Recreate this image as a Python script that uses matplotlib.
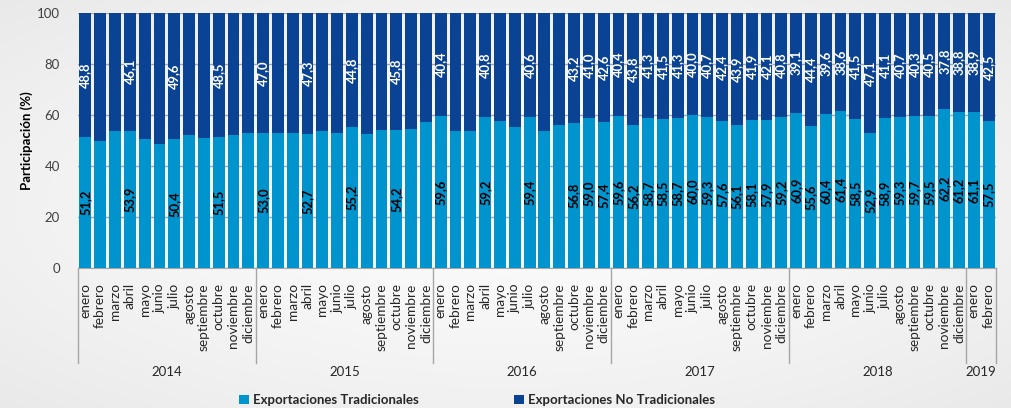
import numpy as np
import matplotlib
matplotlib.use("Agg")
import matplotlib.pyplot as plt
from matplotlib.patches import Patch

# ---------------- data ----------------
months = ["enero", "febrero", "marzo", "abril", "mayo", "junio", "julio",
          "agosto", "septiembre", "octubre", "noviembre", "diciembre"]
years = ["2014", "2015", "2016", "2017", "2018", "2019"]
months_per_year = [12, 12, 12, 12, 12, 2]

tradicionales = [
    51.2, 50.0, 53.6, 53.9, 50.4, 48.8, 50.4, 52.0, 50.8, 51.5, 52.0, 52.8,   # 2014
    53.0, 53.0, 52.8, 52.7, 53.6, 52.8, 55.2, 52.4, 54.3, 54.2, 54.7, 57.1,   # 2015
    59.6, 53.9, 53.9, 59.2, 57.5, 55.1, 59.4, 53.9, 55.9, 56.8, 59.0, 57.4,   # 2016
    59.6, 56.2, 58.7, 58.5, 58.7, 60.0, 59.3, 57.6, 56.1, 58.1, 57.9, 59.2,   # 2017
    60.9, 55.6, 60.4, 61.4, 58.5, 52.9, 58.9, 59.3, 59.7, 59.5, 62.2, 61.2,   # 2018
    61.1, 57.5,                                                               # 2019
]
no_tradicionales = [
    48.8, 50.0, 46.4, 46.1, 49.6, 51.2, 49.6, 48.0, 49.2, 48.5, 48.0, 47.2,
    47.0, 47.0, 47.2, 47.3, 46.4, 47.2, 44.8, 47.6, 45.7, 45.8, 45.3, 42.9,
    40.4, 46.1, 46.1, 40.8, 42.5, 44.9, 40.6, 46.1, 44.1, 43.2, 41.0, 42.6,
    40.4, 43.8, 41.3, 41.5, 41.3, 40.0, 40.7, 42.4, 43.9, 41.9, 42.1, 40.8,
    39.1, 44.4, 39.6, 38.6, 41.5, 47.1, 41.1, 40.7, 40.3, 40.5, 37.8, 38.8,
    38.9, 42.5,
]
# 1 = value label shown on the bar
labelled = [
    1, 0, 0, 1, 0, 0, 1, 0, 0, 1, 0, 0,
    1, 0, 0, 1, 0, 0, 1, 0, 0, 1, 0, 0,
    1, 0, 0, 1, 0, 0, 1, 0, 0, 1, 1, 1,
    1, 1, 1, 1, 1, 1, 1, 1, 1, 1, 1, 1,
    1, 1, 1, 1, 1, 1, 1, 1, 1, 1, 1, 1,
    1, 1,
]
series_names = ["Exportaciones Tradicionales", "Exportaciones No Tradicionales"]

# ---------------- style ----------------
FONT = ["Lato", "DejaVu Sans"]
plt.rcParams["font.family"] = FONT
c_trad = "#0094CE"
c_notrad = "#0B4394"
txt_col = "#262626"

tick_labels = []
for n in months_per_year:
    tick_labels += months[:n]
x = np.arange(len(tradicionales))

fig = plt.figure(figsize=(10.11, 4.08), dpi=100)

# background gradient
bg = fig.add_axes([0, 0, 1, 1], zorder=-10)
yy, xx = np.mgrid[-1:1:200j, -1:1:400j]
r = np.sqrt(xx ** 2 + yy ** 2) / np.sqrt(2)
g = 0.985 - 0.07 * r ** 1.5
bg.imshow(np.dstack([g, g, g]), aspect="auto", extent=[0, 1, 0, 1])
bg.axis("off")

ax = fig.add_axes([78 / 1011, (408 - 268) / 408, (996 - 78) / 1011, 255 / 408])
ax.set_facecolor("none")

w = 0.80
ax.bar(x, tradicionales, width=w, color=c_trad, zorder=3, label=series_names[0])
ax.bar(x, no_tradicionales, width=w, bottom=tradicionales, color=c_notrad,
       zorder=3, label=series_names[1])

for i in x:
    if labelled[i]:
        t = tradicionales[i]
        nt = no_tradicionales[i]
        ax.text(i, t / 2, f"{t:.1f}".replace(".", ","), rotation=90,
                ha="center", va="center", fontsize=9.3, fontweight="bold",
                color="black", zorder=5)
        ax.text(i, t + nt / 2, f"{nt:.1f}".replace(".", ","), rotation=90,
                ha="center", va="center", fontsize=9.3, fontweight="bold",
                color="white", zorder=5)

ax.set_xlim(-0.5, len(x) - 0.5)
ax.set_ylim(0, 100)
ax.set_yticks(range(0, 101, 20))
ax.yaxis.grid(True, color="#a6a6a6", linewidth=1.0, zorder=0)
ax.set_axisbelow(True)
for s in ["top", "right", "left"]:
    ax.spines[s].set_visible(False)
ax.spines["bottom"].set_color("#a6a6a6")
ax.tick_params(axis="y", length=0, pad=13, labelsize=9.5, labelcolor="#404040")
ax.set_xticks(x)
ax.set_xticklabels(tick_labels, rotation=90, fontsize=9.8, color=txt_col)
ax.tick_params(axis="x", length=0, pad=11)
ax.set_ylabel("Participación (%)", fontsize=9.5, fontweight="bold",
              color="black", labelpad=3)

# year separators and labels
trans = ax.get_xaxis_transform()
bounds = np.concatenate([[0], np.cumsum(months_per_year)]) - 0.5
sep_bottom = -(363 - 268) / 255
for b in bounds:
    ax.plot([b, b], [0, sep_bottom], transform=trans, color="#a6a6a6",
            linewidth=1.0, clip_on=False)
for k, yr in enumerate(years):
    mid = (bounds[k] + bounds[k + 1]) / 2
    ax.text(mid, -(372 - 268) / 255, yr, transform=trans, ha="center",
            va="center", fontsize=9.5, color=txt_col)

handles = [Patch(facecolor=c_trad), Patch(facecolor=c_notrad)]
leg = fig.legend(handles, series_names, loc="center",
                 bbox_to_anchor=(0.472, 1 - 400 / 408),
                 ncol=2, frameon=False, handlelength=0.75, handleheight=0.75,
                 handletextpad=0.3, columnspacing=7.2,
                 prop={"family": FONT, "weight": "bold", "size": 9.5})
for t in leg.get_texts():
    t.set_color(txt_col)

fig.savefig("out.png", dpi=100)
